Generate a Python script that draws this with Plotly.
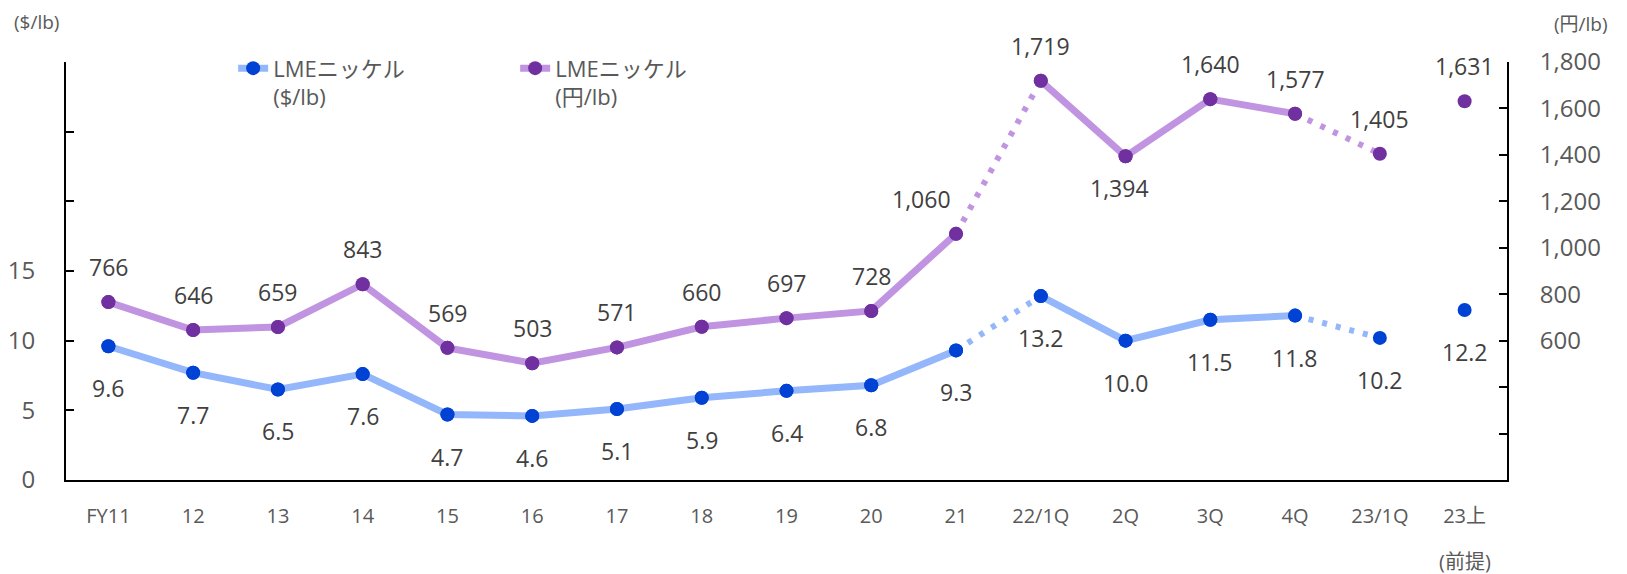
import plotly.graph_objects as go

# data
categories = ["FY11", "12", "13", "14", "15", "16", "17", "18", "19", "20",
              "21", "22/1Q", "2Q", "3Q", "4Q", "23/1Q", "23上"]
usd_per_lb = [9.6, 7.7, 6.5, 7.6, 4.7, 4.6, 5.1, 5.9, 6.4, 6.8,
              9.3, 13.2, 10.0, 11.5, 11.8, 10.2, 12.2]
jpy_per_lb = [766, 646, 659, 843, 569, 503, 571, 660, 697, 728,
              1060, 1719, 1394, 1640, 1577, 1405, 1631]

# which stretches are solid, which dotted, by index (start, end inclusive)
solid_parts = [(0, 10), (11, 14)]
dotted_parts = [(10, 11), (14, 15)]

FONT = "Open Sans, Noto Sans CJK JP, sans-serif"
LABEL_COLOR = "#404040"
TICK_COLOR = "#595959"

series = [
    dict(name="LMEニッケル<br>($/lb)", y=usd_per_lb, axis="y",
         line="#94b6fb", marker="#0042d4"),
    dict(name="LMEニッケル<br>(円/lb)", y=jpy_per_lb, axis="y2",
         line="#c094e0", marker="#7030a0"),
]

fig = go.Figure()

for s in series:
    first = True
    for a, b in solid_parts:
        fig.add_trace(go.Scatter(
            x=categories[a:b + 1], y=s["y"][a:b + 1], yaxis=s["axis"],
            mode="lines+markers", name=s["name"], showlegend=first,
            legendgroup=s["name"],
            line=dict(color=s["line"], width=7),
            marker=dict(color=s["marker"], size=14),
        ))
        first = False
    for a, b in dotted_parts:
        fig.add_trace(go.Scatter(
            x=categories[a:b + 1], y=s["y"][a:b + 1], yaxis=s["axis"],
            mode="lines", showlegend=False, legendgroup=s["name"],
            line=dict(color=s["line"], width=6, dash="5px,9px"),
        ))
    # all markers on top (includes the lone forecast point)
    fig.add_trace(go.Scatter(
        x=categories, y=s["y"], yaxis=s["axis"], mode="markers",
        showlegend=False, legendgroup=s["name"],
        marker=dict(color=s["marker"], size=14),
    ))

# data labels: $ below the points, yen above (a couple moved by hand)
# annotation x is the category index (numeric-looking names would be misread)
for i, v in enumerate(usd_per_lb):
    fig.add_annotation(x=i, y=v, yref="y", text=f"{v:.1f}", showarrow=False,
                       yshift=-42, font=dict(size=23, color=LABEL_COLOR))

yen_moves = {"21": (-35, 35), "2Q": (-6, -32)}
for i, (c, v) in enumerate(zip(categories, jpy_per_lb)):
    dx, dy = yen_moves.get(c, (0, 35))
    fig.add_annotation(x=i, y=v, yref="y2", text=f"{v:,}", showarrow=False,
                       xshift=dx, yshift=dy, font=dict(size=23, color=LABEL_COLOR))

# axis unit labels and the second line of the last category
fig.add_annotation(x=-0.0375, y=1.096, xref="paper", yref="paper", text="($/lb)",
                   showarrow=False, xanchor="left", yanchor="middle",
                   font=dict(size=19, color=TICK_COLOR))
fig.add_annotation(x=1.0715, y=1.092, xref="paper", yref="paper", text="(円/lb)",
                   showarrow=False, xanchor="right", yanchor="middle",
                   font=dict(size=19, color=TICK_COLOR))
fig.add_annotation(x=len(categories) - 1, y=-0.194, xref="x", yref="paper",
                   text="(前提)", showarrow=False, yanchor="middle",
                   font=dict(size=20, color=TICK_COLOR))

left_vals = [0, 5, 10, 15, 20, 25, 30]
left_text = ["0", "5", "10", "15", "", "", ""]
right_vals = list(range(0, 2000, 200))
right_text = ["" if v < 600 else f"{v:,}" for v in right_vals]

# the page body adds 8px on the left and top, so the figure is 8px smaller
fig.update_layout(
    width=1619, height=566,
    margin=dict(l=58, r=120, t=54, b=94, autoexpand=False),
    paper_bgcolor="white", plot_bgcolor="white",
    font=dict(family=FONT, color=TICK_COLOR),
    legend=dict(orientation="h", x=0.116, y=1.035, xanchor="left", yanchor="top",
                valign="top", entrywidth=237, font=dict(size=22, color=TICK_COLOR),
                bgcolor="rgba(0,0,0,0)"),
    xaxis=dict(type="category", range=[-0.5, len(categories) - 0.5],
               showline=True, linecolor="black", linewidth=2,
               showgrid=False, ticks="", ticklabelstandoff=17, automargin=False,
               tickfont=dict(size=20, color=TICK_COLOR)),
    yaxis=dict(range=[0, 30], tickvals=left_vals, ticktext=left_text,
               showline=True, linecolor="black", linewidth=2, showgrid=False,
               zeroline=False, ticks="inside", ticklen=8, tickwidth=2,
               tickcolor="black", ticklabelstandoff=24, automargin=False,
               tickfont=dict(size=24, color=TICK_COLOR)),
    yaxis2=dict(range=[0, 1800], tickvals=right_vals, ticktext=right_text,
                overlaying="y", side="right", showline=True, linecolor="black",
                linewidth=2, showgrid=False, zeroline=False, ticks="inside",
                ticklen=8, tickwidth=2, tickcolor="black", ticklabelstandoff=26,
                automargin=False, tickfont=dict(size=24, color=TICK_COLOR)),
)

fig.write_html("out.html")
